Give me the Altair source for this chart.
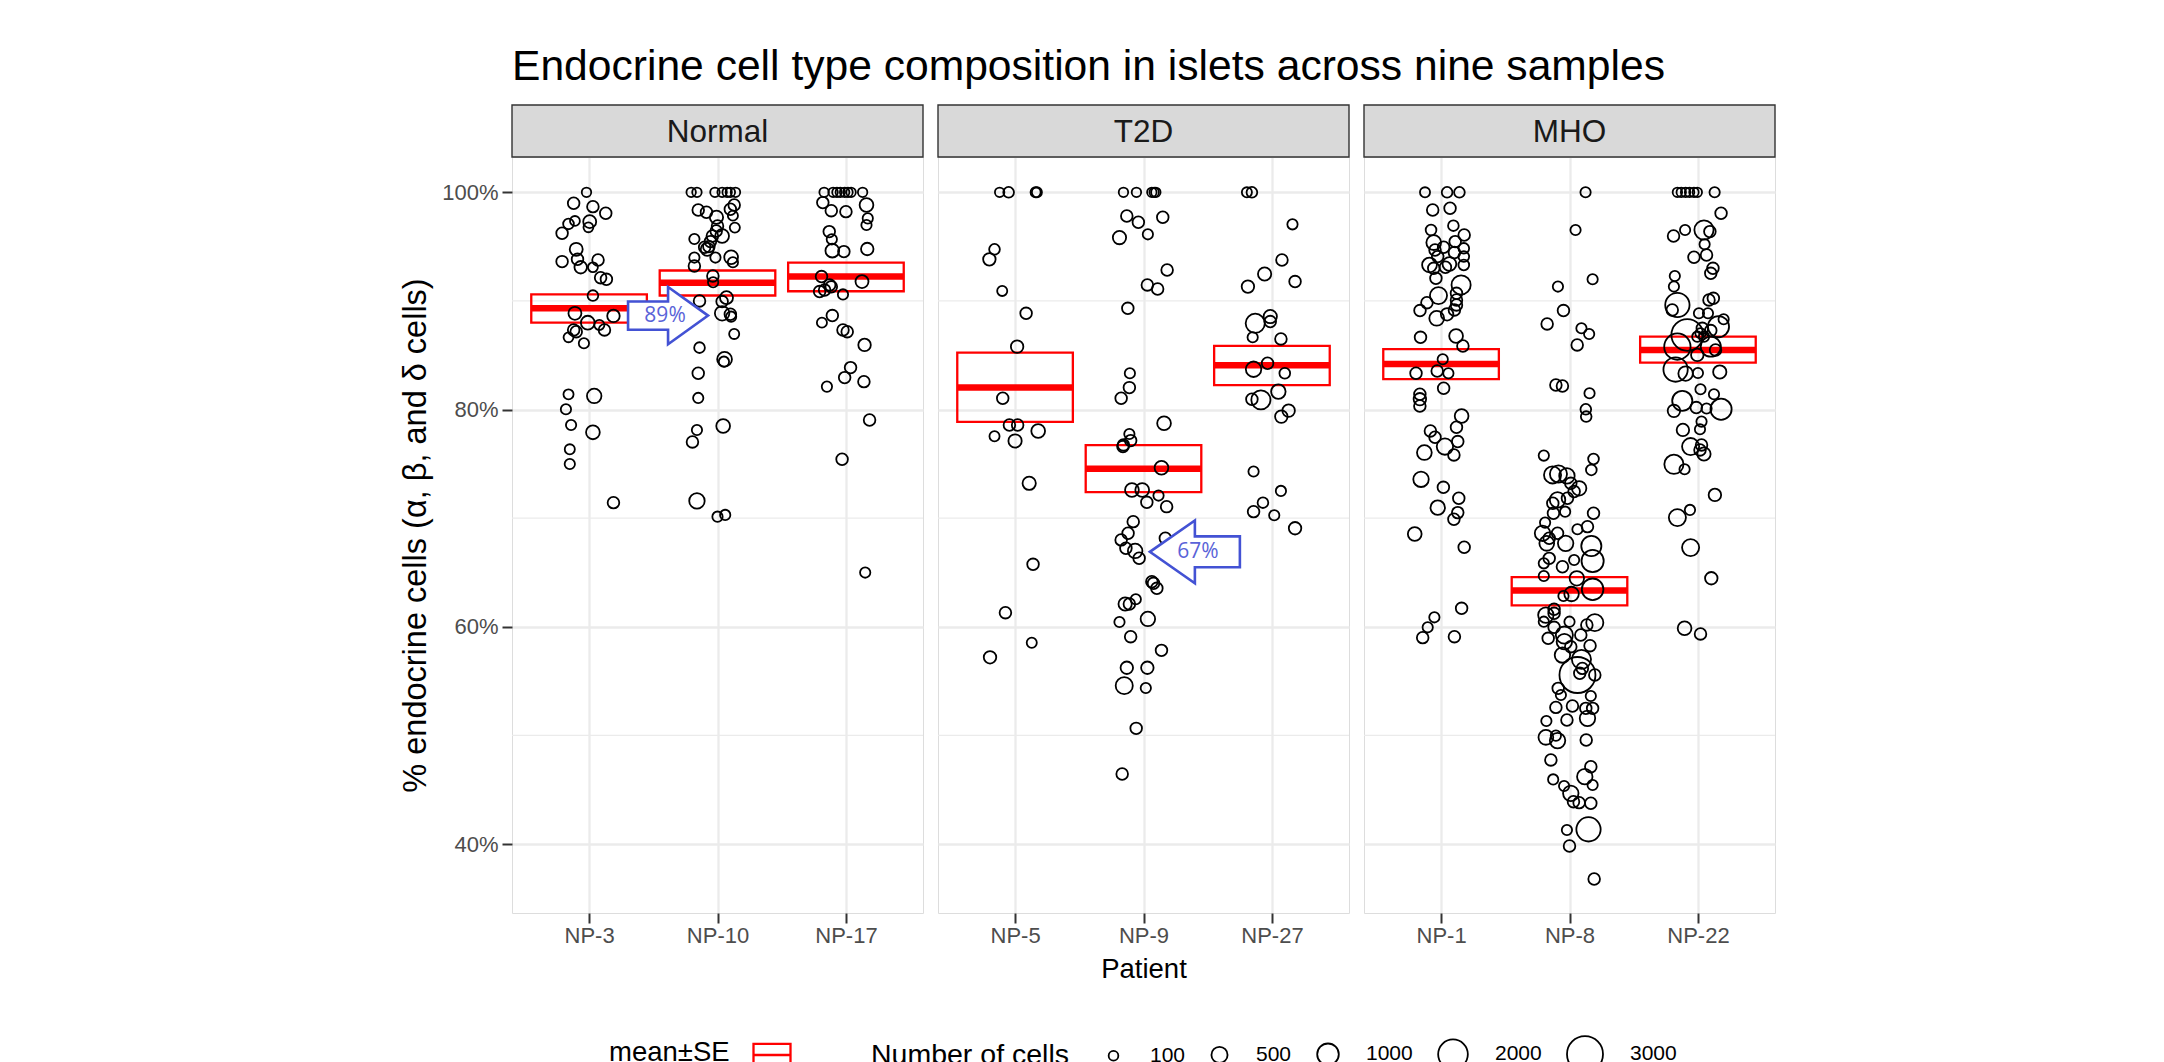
import altair as alt
import pandas as pd

TITLE = "Endocrine cell type composition in islets across nine samples"
Y_TITLE = "% endocrine cells (α, β, and δ cells)"
X_TITLE = "Patient"
GROUPS = ["Normal", "T2D", "MHO"]
GROUP_PATIENTS = [["NP-3", "NP-10", "NP-17"], ["NP-5", "NP-9", "NP-27"], ["NP-1", "NP-8", "NP-22"]]

Y_TICKS = [40, 60, 80, 100]
Y_MINOR = [50, 70, 90]
SIZE_BREAKS = [100, 500, 1000, 2000, 3000]

# ---- islet-level values: % endocrine, horizontal jitter (in category units), number of cells
NP3_PCT = [100.0, 98.99, 98.68, 98.07, 97.36, 97.09, 97.3, 96.78, 96.23, 94.75, 93.62, 93.83, 93.77, 93.1, 93.1, 92.14, 91.99, 90.49, 88.86, 88.62, 88.0, 87.79, 87.33, 87.17, 87.33, 86.65, 86.1, 81.4, 81.25, 80.03, 78.58, 77.9, 76.34, 74.99, 71.43]
NP3_JIT = [-0.02, -0.12, 0.03, 0.13, -0.11, -0.16, 0.005, -0.005, -0.21, -0.10, -0.21, -0.09, 0.07, -0.065, 0.03, 0.09, 0.135, 0.03, -0.11, 0.19, -0.01, 0.08, -0.12, -0.10, 0.12, -0.16, -0.04, -0.16, 0.04, -0.18, -0.14, 0.03, -0.15, -0.15, 0.19]
NP3_CELLS = [90, 200, 200, 200, 110, 150, 280, 110, 200, 280, 200, 200, 200, 250, 110, 200, 200, 150, 280, 250, 330, 120, 200, 200, 200, 110, 130, 120, 380, 130, 130, 330, 120, 130, 200]

NP10_PCT = [100, 100, 100, 100, 100, 100, 100, 98.83, 98.44, 98.37, 98.16, 97.85, 97.7, 96.9, 96.75, 96.44, 95.98, 95.98, 95.7, 95.46, 95.0, 94.94, 94.75, 93.99, 93.99, 94.02, 93.56, 93.22, 92.3, 91.72, 90.0, 90.3, 89.94, 88.86, 88.77, 88.55, 86.96, 85.7, 84.63, 84.41, 83.34, 81.07, 78.49, 78.12, 77.02, 71.59, 70.14, 70.3]
NP10_JIT = [-0.205, -0.16, -0.02, 0.036, 0.075, 0.10, 0.14, 0.13, 0.10, -0.15, -0.086, 0.12, -0.008, 0.0, 0.135, -0.01, 0.036, -0.04, -0.18, -0.055, -0.067, -0.10, -0.08, -0.016, -0.18, 0.106, 0.12, -0.18, -0.036, -0.034, -0.14, 0.07, 0.036, 0.036, 0.10, 0.106, 0.13, -0.14, 0.055, 0.05, -0.15, -0.15, 0.044, -0.16, -0.195, -0.16, 0.0, 0.06]
NP10_CELLS = [90, 90, 90, 90, 90, 90, 90, 200, 200, 200, 200, 120, 300, 200, 120, 200, 330, 200, 130, 200, 200, 200, 280, 130, 130, 330, 130, 200, 200, 130, 200, 280, 200, 380, 200, 130, 120, 150, 400, 130, 200, 130, 330, 130, 200, 450, 130, 130]

NP17_PCT = [100, 100, 100, 100, 100, 100, 100, 100, 99.05, 98.31, 98.22, 98.83, 97.6, 96.99, 96.38, 95.67, 94.63, 94.54, 94.78, 92.24, 91.78, 91.47, 90.86, 91.0, 91.3, 90.6, 88.65, 88.0, 87.33, 87.17, 85.95, 83.86, 82.94, 82.57, 82.11, 79.04, 75.42, 64.99]
NP17_JIT = [-0.17, -0.10, -0.07, -0.044, -0.01, 0.016, 0.04, 0.13, -0.18, -0.114, 0.0, 0.16, 0.17, 0.16, -0.13, -0.11, -0.106, -0.016, 0.166, -0.19, 0.125, -0.127, -0.205, -0.166, -0.114, -0.023, -0.106, -0.187, -0.023, 0.01, 0.145, 0.036, -0.01, 0.14, -0.148, 0.184, -0.03, 0.15]
NP17_CELLS = [90, 90, 90, 90, 90, 90, 90, 90, 200, 200, 200, 330, 130, 130, 200, 130, 330, 200, 250, 200, 280, 200, 200, 200, 200, 130, 200, 120, 200, 200, 250, 200, 200, 200, 130, 200, 200, 130]

NP5_PCT = [100, 100, 100, 100, 94.75, 93.83, 90.92, 88.86, 85.79, 81.04, 78.58, 78.58, 78.03, 77.54, 77.11, 73.21, 65.75, 61.3, 58.53, 57.19]
NP5_JIT = [-0.12, -0.05, 0.16, 0.17, -0.16, -0.2, -0.10, 0.086, 0.016, -0.096, -0.044, 0.02, 0.18, -0.16, 0.0, 0.11, 0.14, -0.075, 0.13, -0.195]
NP5_CELLS = [90, 150, 120, 120, 150, 250, 120, 200, 250, 200, 200, 200, 330, 120, 300, 300, 200, 200, 120, 250]

NP9_PCT = [100, 100, 100, 100, 100, 97.82, 97.24, 97.7, 95.83, 96.13, 92.85, 91.47, 91.1, 89.32, 83.34, 82.02, 81.04, 78.74, 77.75, 77.14, 76.74, 76.59, 74.65, 72.6, 72.6, 72.08, 71.46, 71.06, 69.68, 68.61, 68.0, 68.15, 67.23, 66.98, 66.31, 64.15, 64.0, 63.54, 62.1, 62.1, 62.53, 60.72, 60.44, 59.09, 57.83, 56.23, 56.23, 54.58, 54.36, 50.65, 46.45]
NP9_JIT = [-0.156, -0.055, 0.065, 0.083, 0.096, -0.13, -0.04, 0.15, -0.187, 0.034, 0.184, 0.03, 0.11, -0.122, -0.106, -0.11, -0.174, 0.16, -0.11, -0.1, -0.156, -0.16, 0.14, -0.09, -0.01, 0.117, 0.026, 0.18, -0.08, -0.12, -0.174, 0.17, -0.137, -0.065, -0.034, 0.065, 0.078, 0.104, -0.143, -0.11, -0.06, 0.034, -0.187, -0.1, 0.14, -0.13, 0.03, -0.15, 0.018, -0.057, -0.166]
NP9_CELLS = [90, 90, 90, 90, 90, 200, 200, 200, 300, 130, 200, 200, 200, 200, 130, 200, 200, 330, 130, 200, 200, 200, 330, 330, 330, 130, 200, 200, 200, 200, 200, 200, 200, 380, 200, 200, 200, 200, 300, 200, 130, 380, 130, 200, 200, 250, 250, 580, 130, 200, 200]

NP27_PCT = [100, 100, 97.05, 93.77, 92.48, 91.78, 91.32, 88.56, 87.94, 88.1, 86.65, 86.5, 84.26, 83.71, 83.34, 81.65, 80.95, 80.89, 79.9, 79.35, 74.29, 72.51, 71.43, 70.6, 70.27, 69.07]
NP27_JIT = [-0.195, -0.156, 0.16, 0.078, -0.057, 0.18, -0.187, -0.013, -0.13, -0.013, -0.15, 0.07, -0.034, -0.143, 0.1, 0.05, -0.156, -0.086, 0.13, 0.073, -0.143, 0.07, -0.07, -0.143, 0.018, 0.18]
NP27_CELLS = [120, 150, 130, 200, 300, 200, 250, 300, 760, 200, 130, 200, 200, 450, 150, 380, 200, 760, 250, 250, 130, 130, 150, 200, 130, 250]

NP1_PCT = [100, 100, 100, 98.37, 98.53, 96.93, 96.53, 96.07, 95.37, 95.46, 94.94, 94.69, 94.84, 94.08, 93.31, 94.08, 94.45, 93.31, 93.0, 93.1, 93.4, 92.08, 91.47, 90.49, 90.7, 90.09, 89.63, 89.84, 89.11, 88.77, 88.4, 89.17, 86.65, 86.77, 85.85, 84.63, 83.34, 83.55, 83.34, 81.96, 81.41, 80.95, 80.33, 79.41, 78.37, 78.03, 77.45, 77.05, 76.59, 76.04, 75.82, 73.58, 72.84, 71.83, 70.97, 70.51, 69.9, 68.55, 67.32, 61.7, 60.87, 59.95, 59.0, 59.09]
NP1_JIT = [-0.125, 0.047, 0.143, -0.065, 0.07, 0.096, -0.078, 0.18, -0.057, 0.11, 0.02, -0.047, 0.177, 0.177, 0.177, -0.026, 0.104, -0.09, -0.057, 0.034, 0.065, -0.04, 0.156, -0.02, 0.12, 0.12, 0.12, -0.11, -0.164, 0.047, -0.034, 0.104, -0.16, 0.117, 0.17, 0.013, -0.195, -0.03, 0.057, 0.02, -0.165, -0.165, -0.165, 0.16, 0.12, -0.083, -0.047, 0.13, 0.03, -0.13, 0.1, -0.156, 0.018, 0.138, -0.026, 0.13, 0.1, -0.205, 0.18, 0.16, -0.052, -0.104, -0.143, 0.104]
NP1_CELLS = [120, 150, 150, 200, 200, 150, 150, 200, 400, 200, 200, 200, 150, 150, 150, 200, 200, 400, 200, 200, 330, 200, 760, 580, 200, 200, 200, 200, 200, 250, 400, 200, 200, 330, 200, 130, 200, 200, 130, 200, 200, 250, 200, 330, 200, 200, 200, 200, 520, 400, 200, 450, 200, 200, 380, 200, 200, 330, 200, 200, 130, 130, 200, 200]

NP8_PCT = [100, 96.53, 91.99, 91.32, 89.11, 87.88, 87.48, 86.96, 85.95, 82.26, 82.17, 81.5, 80.02, 79.35, 75.76, 75.45, 74.44, 73.98, 74.07, 73.89, 73.21, 72.75, 72.45, 71.68, 71.37, 71.83, 70.45, 70.45, 70.6, 69.59, 68.61, 68.98, 69.22, 68.15, 68.61, 67.44, 66.06, 67.68, 67.68, 65.84, 66.3, 65.53, 66.15, 64.67, 64.46, 63.45, 63.02, 62.83, 61.61, 61.08, 61.24, 60.47, 60.47, 60.38, 60.17, 59.95, 58.94, 59.24, 58.63, 59.24, 58.17, 58.26, 57.4, 57.0, 55.56, 56.17, 55.72, 55.56, 54.33, 53.72, 53.63, 52.58, 52.71, 52.49, 52.49, 51.57, 51.42, 51.33, 49.82, 49.52, 49.98, 49.58, 47.74, 47.12, 46.2, 45.95, 45.43, 45.34, 44.67, 43.9, 43.81, 43.75, 41.35, 41.29, 39.82, 36.78]
NP8_JIT = [0.125, 0.047, 0.18, -0.09, -0.047, -0.174, 0.093, 0.153, 0.06, -0.106, -0.055, 0.156, 0.127, 0.13, -0.2, 0.187, 0.17, -0.132, -0.086, -0.02, 0.01, 0.075, 0.036, -0.093, -0.13, -0.016, 0.187, -0.125, -0.034, -0.19, -0.21, 0.062, 0.14, -0.158, -0.093, 0.17, 0.18, -0.177, -0.03, -0.2, -0.158, -0.055, 0.036, -0.2, 0.057, 0.18, 0.016, -0.047, -0.12, -0.184, -0.12, -0.2, 0.0, 0.197, 0.135, -0.12, -0.166, -0.04, -0.04, 0.088, 0.01, 0.16, -0.055, 0.093, 0.062, 0.1, 0.08, 0.197, -0.088, -0.067, 0.166, -0.106, 0.023, 0.127, 0.18, 0.14, -0.02, -0.18, -0.184, -0.093, -0.106, 0.13, -0.145, 0.166, 0.119, -0.127, 0.18, -0.042, 0.01, 0.031, 0.075, 0.166, 0.148, -0.02, 0.0, 0.192]
NP8_CELLS = [130, 130, 130, 130, 200, 200, 130, 130, 200, 200, 200, 130, 150, 150, 130, 150, 150, 580, 580, 450, 200, 380, 200, 450, 200, 200, 200, 200, 130, 130, 450, 130, 200, 200, 200, 850, 1060, 400, 450, 130, 200, 200, 130, 130, 380, 1000, 380, 130, 200, 450, 200, 130, 130, 580, 200, 200, 200, 580, 450, 200, 200, 200, 450, 760, 3000, 200, 200, 200, 200, 130, 130, 200, 200, 200, 200, 450, 200, 130, 400, 450, 130, 200, 200, 200, 450, 130, 130, 130, 450, 200, 200, 200, 1300, 130, 200, 200]

NP22_PCT = [100, 100, 100, 100, 100, 100, 100, 98.07, 96.53, 96.38, 96.53, 95.98, 95.21, 94.23, 94.02, 93.0, 92.54, 92.3, 91.32, 89.63, 89.17, 90.24, 90.09, 88.86, 88.86, 88.31, 87.48, 87.27, 87.63, 86.87, 87.02, 86.71, 85.79, 86.71, 85.79, 85.49, 85.03, 83.68, 83.31, 83.37, 83.46, 81.87, 81.41, 80.8, 79.88, 80.18, 80.09, 80.03, 78.89, 78.12, 78.18, 76.59, 76.74, 76.28, 75.91, 74.96, 74.5, 72.14, 70.05, 70.76, 67.29, 64.47, 59.86, 59.34]
NP22_JIT = [-0.16, -0.13, -0.096, -0.065, -0.031, -0.005, 0.13, 0.18, 0.047, 0.093, -0.1, -0.19, 0.052, 0.067, -0.031, 0.117, 0.1, -0.18, -0.187, -0.16, -0.2, 0.12, 0.086, 0.008, 0.078, 0.2, 0.034, 0.1, 0.16, -0.083, 0.02, 0.047, -0.16, -0.005, 0.1, 0.137, -0.005, -0.174, -0.096, 0.0, 0.17, 0.02, 0.125, -0.122, -0.187, -0.013, 0.067, 0.18, 0.028, -0.117, 0.016, -0.057, 0.028, 0.016, 0.047, -0.187, -0.104, 0.132, -0.16, -0.062, -0.057, 0.104, -0.104, 0.02]
NP22_CELLS = [90, 90, 90, 90, 90, 90, 130, 200, 760, 200, 130, 200, 130, 200, 200, 200, 200, 130, 130, 1300, 200, 200, 200, 130, 130, 130, 200, 200, 950, 2300, 130, 130, 1550, 130, 850, 200, 250, 1300, 380, 130, 300, 130, 130, 850, 250, 200, 130, 950, 130, 250, 130, 580, 200, 200, 300, 760, 130, 250, 580, 130, 580, 250, 330, 200]

POINTS = {
    "NP-3": (NP3_PCT, NP3_JIT, NP3_CELLS), "NP-10": (NP10_PCT, NP10_JIT, NP10_CELLS),
    "NP-17": (NP17_PCT, NP17_JIT, NP17_CELLS), "NP-5": (NP5_PCT, NP5_JIT, NP5_CELLS),
    "NP-9": (NP9_PCT, NP9_JIT, NP9_CELLS), "NP-27": (NP27_PCT, NP27_JIT, NP27_CELLS),
    "NP-1": (NP1_PCT, NP1_JIT, NP1_CELLS), "NP-8": (NP8_PCT, NP8_JIT, NP8_CELLS),
    "NP-22": (NP22_PCT, NP22_JIT, NP22_CELLS),
}

# ---- mean ± SE per patient
XB_PATIENT = ["NP-3", "NP-10", "NP-17", "NP-5", "NP-9", "NP-27", "NP-1", "NP-8", "NP-22"]
XB_MEAN = [89.33, 91.68, 92.24, 82.03, 74.54, 84.08, 84.2, 63.35, 85.49]
XB_LOW = [88.0, 90.5, 90.89, 78.86, 72.4, 82.25, 82.8, 61.97, 84.32]
XB_HIGH = [90.6, 92.8, 93.52, 85.24, 76.72, 85.86, 85.56, 64.58, 86.71]

# ---- callout arrows
ANN_GROUP = ["Normal", "T2D"]
ANN_X = [1.615, 2.40]
ANN_Y = [88.65, 66.9]
ANN_TEXT = ["89%", "67%"]
ANN_DIR = ["right", "left"]

# ---------------------------------------------------------------- build tables
rows = []
xb_rows = []
for g, pats in zip(GROUPS, GROUP_PATIENTS):
    for i, p in enumerate(pats):
        pct, jit, cells = POINTS[p]
        for v, j, c in zip(pct, jit, cells):
            rows.append({"group": g, "patient": p, "xpos": i + 1 + j, "pct": v, "cells": c})
        k = XB_PATIENT.index(p)
        xb_rows.append({"group": g, "patient": p, "x0": i + 1 - 0.45, "x1": i + 1 + 0.45,
                        "mean": XB_MEAN[k], "lo": XB_LOW[k], "hi": XB_HIGH[k], "lab": "mean±SE"})
pts_df = pd.DataFrame(rows)
xb_df = pd.DataFrame(xb_rows)
ann_df = pd.DataFrame({"group": ANN_GROUP, "ax": ANN_X, "pct": ANN_Y, "txt": ANN_TEXT, "dir": ANN_DIR})

W, H = 411, 756
STRIP_H = 52
Y_DOMAIN = [33.65, 103.25]
X_DOMAIN = [0.4, 3.6]
FONT = "Liberation Sans"

R_PATH = "M-1,-0.354L0,-0.354L0,-0.716L1,0L0,0.716L0,0.354L-1,0.354Z"
L_PATH = "M1,-0.344L0,-0.344L0,-0.697L-1,0L0,0.697L0,0.344L1,0.344Z"

size_legend = alt.Legend(
    title="Number of cells", values=SIZE_BREAKS, format="d", orient="none", legendX=359,
    legendY=878, direction="horizontal", titleOrient="left", titleFontSize=28.5,
    titleFontWeight="normal", titleColor="black", titleFont=FONT, titleLimit=400,
    labelFont=FONT, labelFontSize=21, labelColor="black", symbolStrokeColor="black",
    symbolStrokeWidth=1.8, symbolType="circle", labelOffset=26, columnPadding=21,
    titlePadding=34, padding=0, titleBaseline="middle")

xb_legend = alt.Legend(
    title="mean±SE", orient="none", legendX=97, legendY=878, direction="horizontal",
    titleOrient="left", labelExpr="''", symbolType="M-1,-0.6H1V0.6H-1Z M-1,0H1",
    symbolSize=1369, symbolStrokeWidth=2.3, symbolStrokeColor="#ff0000", titleFontSize=27.5,
    titleFontWeight="normal", titleColor="black", titleFont=FONT, titlePadding=22, padding=0,
    titleBaseline="middle", titleLimit=300, labelOffset=0)


def panel(gi):
    g = GROUPS[gi]
    pats = GROUP_PATIENTS[gi]
    expr = "['', " + ", ".join("'%s'" % p for p in pats) + "][datum.value]"
    xaxis = alt.Axis(values=[1, 2, 3], labelExpr=expr, title=X_TITLE if gi == 1 else "",
                     grid=True, gridColor="#ebebeb", gridWidth=2.3, ticks=True, tickSize=10,
                     tickColor="#333333", tickWidth=2, domain=False, labelFontSize=22,
                     labelColor="#4d4d4d", labelPadding=2, labelFont=FONT, titleFont=FONT,
                     titleFontSize=27.5, titleFontWeight="normal", titleColor="black",
                     titleBaseline="alphabetic", titleY=64, titleX=W / 2, titleAnchor="middle")
    if gi == 0:
        yaxis = alt.Axis(values=Y_TICKS, labelExpr="datum.value + '%'", title=Y_TITLE,
                         grid=True, gridColor="#ebebeb", gridWidth=2.3, tickSize=10,
                         tickColor="#333333", tickWidth=2, domain=False, labelFontSize=22,
                         labelColor="#4d4d4d", labelPadding=4, labelFont=FONT, titleFont=FONT,
                         titleFontSize=32.5, titleFontWeight="normal", titleColor="black",
                         titleAngle=270, titleX=-87, titleY=H / 2, titleAlign="center",
                         titleBaseline="alphabetic", titleLimit=800)
    else:
        yaxis = alt.Axis(values=Y_TICKS, labels=False, ticks=False, title="", grid=True,
                         gridColor="#ebebeb", gridWidth=2.3, domain=False)
    xs = alt.Scale(domain=X_DOMAIN, nice=False, zero=False)
    ys = alt.Scale(domain=Y_DOMAIN, nice=False, zero=False)

    minor = alt.Chart(pd.DataFrame({"pct": Y_MINOR})).mark_rule(
        color="#ebebeb", strokeWidth=1.2).encode(y=alt.Y("pct:Q", scale=ys, axis=yaxis))

    xbd = xb_df[xb_df.group == g]
    box = alt.Chart(xbd).mark_rect(filled=False, strokeWidth=2.3).encode(
        x=alt.X("x0:Q", scale=xs, axis=xaxis), x2="x1:Q",
        y=alt.Y("lo:Q", scale=ys, axis=yaxis), y2="hi:Q",
        stroke=alt.Stroke("lab:N", scale=alt.Scale(domain=["mean±SE"], range=["#ff0000"]),
                          legend=xb_legend))
    meanline = alt.Chart(xbd).mark_rule(color="#ff0000", strokeWidth=6.5).encode(
        x=alt.X("x0:Q", scale=xs, axis=xaxis), x2="x1:Q",
        y=alt.Y("mean:Q", scale=ys, axis=yaxis))

    pts = alt.Chart(pts_df[pts_df.group == g]).mark_point(
        shape="circle", filled=False, color="black", strokeWidth=1.8, opacity=1).encode(
        x=alt.X("xpos:Q", scale=xs, axis=xaxis),
        y=alt.Y("pct:Q", scale=ys, axis=yaxis),
        size=alt.Size("cells:Q", scale=alt.Scale(domain=[100, 3000], range=[94, 1296]),
                      legend=size_legend))

    strip = alt.Chart(pd.DataFrame({"group": [g]})).mark_rect(
        fill="#d9d9d9", stroke="#333333", strokeWidth=1.4).encode(
        x=alt.value(0), x2=alt.value(W), y=alt.value(-STRIP_H), y2=alt.value(0))
    strip_txt = alt.Chart(pd.DataFrame({"group": [g]})).mark_text(
        fontSize=31.5, color="#1a1a1a", baseline="alphabetic", font=FONT).encode(
        text="group:N", x=alt.value(W / 2), y=alt.value(-15.5))

    layers = [minor, box, meanline, pts]
    a = ann_df[ann_df.group == g]
    for d, path, sz, dx in [("right", R_PATH, 6400, -3), ("left", L_PATH, 8100, 3)]:
        ad = a[a.dir == d]
        if len(ad):
            layers.append(alt.Chart(ad).mark_point(
                shape=path, filled=True, fill="white", stroke="#4352d4", strokeWidth=2.6,
                size=sz, opacity=1).encode(
                x=alt.X("ax:Q", scale=xs, axis=xaxis), y=alt.Y("pct:Q", scale=ys, axis=yaxis)))
            layers.append(alt.Chart(ad).mark_text(
                fontSize=21, color="#5a63d8", font="Open Sans", dx=dx).encode(
                x=alt.X("ax:Q", scale=xs, axis=xaxis), y=alt.Y("pct:Q", scale=ys, axis=yaxis),
                text="txt:N"))
    layers += [strip, strip_txt]
    if gi == 0:
        layers.append(alt.Chart(pd.DataFrame({"t": [TITLE]})).mark_text(
            fontSize=42.6, align="left", baseline="alphabetic", color="black", font=FONT).encode(
            text="t:N", x=alt.value(0), y=alt.value(-77)))
    return alt.layer(*layers).properties(width=W, height=H)


chart = alt.hconcat(panel(0), panel(1), panel(2), spacing=15, bounds="flush").properties(
    autosize=alt.AutoSizeParams(type="none"),
    padding={"left": 512, "top": 157, "right": 1652, "bottom": 905},
).configure_view(stroke="#333333", strokeWidth=1.6, fill="white").configure(
    font=FONT, background="white")

chart.save("out.html", embed_options={"renderer": "svg", "actions": False})
